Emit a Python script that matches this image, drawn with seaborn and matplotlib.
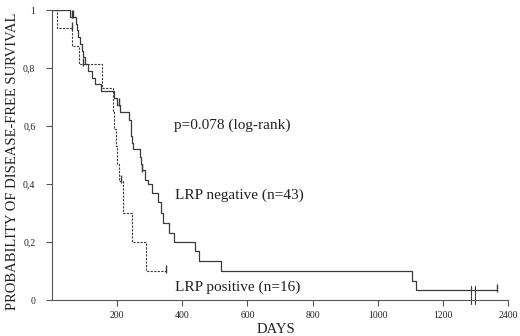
import matplotlib
matplotlib.use("Agg")
import matplotlib.pyplot as plt
import seaborn as sns
import pandas as pd

# Kaplan-Meier estimates (day, survival)
neg_days = [0, 55, 73, 76, 81, 86, 91, 96, 100, 112, 123, 132, 151, 191, 200, 208,
            235, 242, 244, 246, 248, 270, 273, 276, 287, 294, 306, 324, 336, 342,
            358, 373, 439, 452, 519, 1105, 1117, 1366]
neg_surv = [1.0, 0.977, 0.953, 0.93, 0.907, 0.884, 0.86, 0.837, 0.814, 0.79, 0.767,
            0.744, 0.72, 0.697, 0.674, 0.648, 0.62, 0.587, 0.565, 0.54, 0.52, 0.495,
            0.47, 0.448, 0.414, 0.40, 0.369, 0.338, 0.30, 0.266, 0.231, 0.2, 0.17,
            0.133, 0.1, 0.067, 0.033, 0.033]
neg_cens_days = [60, 64, 206, 277, 1366]
neg_cens_surv = [0.977, 0.977, 0.674, 0.448, 0.033]

pos_days = [0, 15, 62, 82, 155, 187, 191, 196, 200, 205, 218, 245, 288, 350]
pos_surv = [1.0, 0.9375, 0.875, 0.8125, 0.73, 0.65, 0.59, 0.53, 0.47, 0.41, 0.30,
            0.20, 0.10, 0.10]
pos_cens_days = [60, 95, 212, 350]
pos_cens_surv = [0.9375, 0.8125, 0.41, 0.10]

# axis is broken after 1200: last tick stands for 2400 days
x_ticks = [200, 400, 600, 800, 1000, 1200, 1400]
x_labels = ["200", "400", "600", "800", "1000", "1200", "2400"]
y_ticks = [0, 0.2, 0.4, 0.6, 0.8, 1.0]
y_labels = ["0", "0,2", "0,4", "0,6", "0,8", "1"]
break_days = [1286, 1298]

neg = pd.DataFrame({"day": neg_days, "surv": neg_surv})
pos = pd.DataFrame({"day": pos_days, "surv": pos_surv})

sns.set_style("ticks")
plt.rcParams["font.family"] = ["Liberation Serif", "DejaVu Serif"]

fig = plt.figure(figsize=(5.2, 3.36), dpi=100)
ax = fig.add_axes([0.1, 0.107, 0.877, 0.863])

line_col = "#3a3a3a"
sns.lineplot(data=neg, x="day", y="surv", drawstyle="steps-post", color=line_col,
             lw=0.9, ax=ax)
sns.lineplot(data=pos, x="day", y="surv", drawstyle="steps-post", color=line_col,
             lw=0.8, ax=ax, dashes=False, linestyle=(0, (2.0, 1.2)))

ax.plot(neg_cens_days, [s + 0.008 for s in neg_cens_surv], ls="none", marker="|",
        ms=6, mew=1.0, color=line_col)
ax.plot(pos_cens_days, [s + 0.008 for s in pos_cens_surv], ls="none", marker="|",
        ms=6, mew=1.0, color=line_col)

# break marks on the axis and on the curve
for b in break_days:
    ax.plot([b, b], [0.015, -0.015], color=line_col, lw=0.8, clip_on=False)
    ax.plot([b, b], [0.048, 0.018], color=line_col, lw=0.8, clip_on=False)

ax.set_xlim(0, 1400)
ax.set_ylim(0, 1.0)
ax.set_xticks(x_ticks)
ax.set_xticklabels(x_labels)
ax.set_yticks(y_ticks)
ax.set_yticklabels(y_labels)
ax.tick_params(axis="both", labelsize=7, length=4, width=0.8, color="#555555",
               labelcolor="#222222")
ax.tick_params(axis="y", pad=8)
ax.tick_params(axis="x", pad=4)
sns.despine(ax=ax)
for s in ["left", "bottom"]:
    ax.spines[s].set_color("#555555")
    ax.spines[s].set_linewidth(0.8)

ax.set_xlabel("DAYS", fontsize=10.5, color="#222222")
ax.set_ylabel("PROBABILITY OF DISEASE-FREE SURVIVAL", fontsize=10.5, color="#222222")
ax.xaxis.set_label_coords(0.491, -0.08)
ax.yaxis.set_label_coords(-0.072, 0.48)

ax.text(373, 0.603, "p=0.078 (log-rank)", fontsize=11, va="center", color="#222222")
ax.text(379, 0.362, "LRP negative (n=43)", fontsize=11, va="center", color="#222222")
ax.text(379, 0.045, "LRP positive (n=16)", fontsize=11, va="center", color="#222222")

fig.savefig("out.png", dpi=100)
